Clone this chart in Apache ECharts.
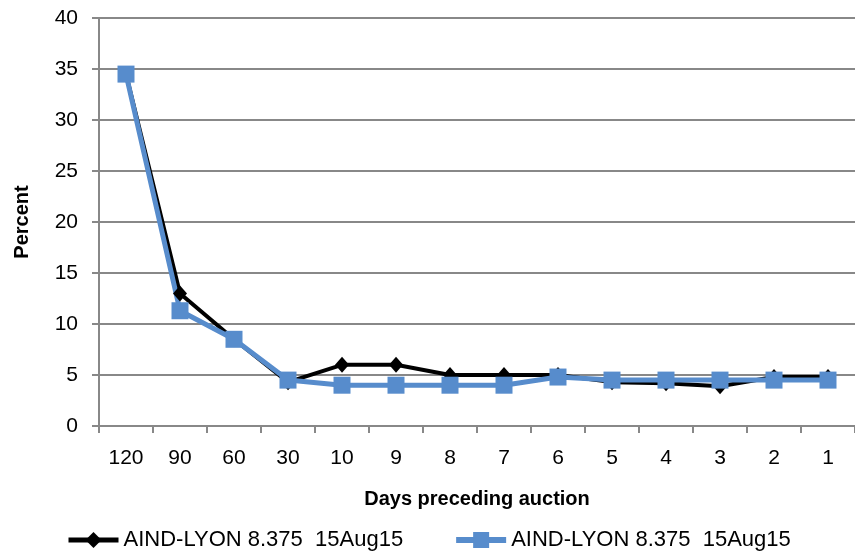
<!DOCTYPE html>
<html><head><meta charset="utf-8">
<script src="https://cdn.jsdelivr.net/npm/echarts@6/dist/echarts.min.js"></script>
<style>html,body{margin:0;padding:0;background:#fff}#c{width:855px;height:552px}</style>
</head><body><div id="c"></div>
<script>
var categories = ['120','90','60','30','10','9','8','7','6','5','4','3','2','1'];
var seriesBlack = [34.5,13.0,8.5,4.3,6.0,6.0,5.0,5.0,5.0,4.3,4.2,3.9,4.8,4.8];
var seriesBlue = [34.5,11.3,8.5,4.5,4.0,4.0,4.0,4.0,4.8,4.5,4.5,4.5,4.5,4.5];
var seriesNames = ['AIND-LYON 8.375  15Aug15','AIND-LYON 8.375  15Aug15 '];
var yTicks = {min:0,max:40,interval:5};

var chart = echarts.init(document.getElementById('c'));
var font = 'Liberation Sans, Arial, sans-serif';
chart.setOption({
  animation:false,
  grid:{left:99,right:0,top:18,bottom:126,containLabel:false},
  legend:{top:524,left:61,itemGap:50,itemWidth:50,itemHeight:20,
    textStyle:{fontFamily:font,fontSize:22,color:'#000'},
    data:[{name:seriesNames[0],lineStyle:{width:5}},{name:seriesNames[1],lineStyle:{width:6}}]},
  xAxis:{type:'category',data:categories,boundaryGap:true,
    name:'Days preceding auction',nameLocation:'middle',nameGap:63,
    nameTextStyle:{fontFamily:font,fontSize:20,fontWeight:'bold',color:'#000'},
    axisLine:{lineStyle:{color:'#888',width:2}},
    axisTick:{show:true,inside:false,length:7,lineStyle:{color:'#888',width:2},alignWithLabel:false},
    axisLabel:{fontFamily:font,fontSize:21,color:'#000',margin:22},
    splitLine:{show:false}},
  yAxis:{type:'value',min:yTicks.min,max:yTicks.max,interval:yTicks.interval,
    name:'Percent',nameLocation:'middle',nameGap:67,nameRotate:90,
    nameTextStyle:{fontFamily:font,fontSize:20,fontWeight:'bold',color:'#000'},
    axisLine:{show:true,lineStyle:{color:'#888',width:2}},
    axisTick:{show:true,inside:false,length:7,lineStyle:{color:'#888',width:2}},
    axisLabel:{fontFamily:font,fontSize:21,color:'#000',margin:21},
    splitLine:{show:true,lineStyle:{color:'#888',width:2}}},
  series:[
    {name:seriesNames[0],type:'line',data:seriesBlack,symbol:'diamond',symbolSize:[14,16],
      lineStyle:{color:'#000',width:4},itemStyle:{color:'#000'}},
    {name:seriesNames[1],type:'line',data:seriesBlue,symbol:'rect',symbolSize:17,
      lineStyle:{color:'#578ccc',width:5},itemStyle:{color:'#578ccc'}}
  ]
});
</script></body></html>
